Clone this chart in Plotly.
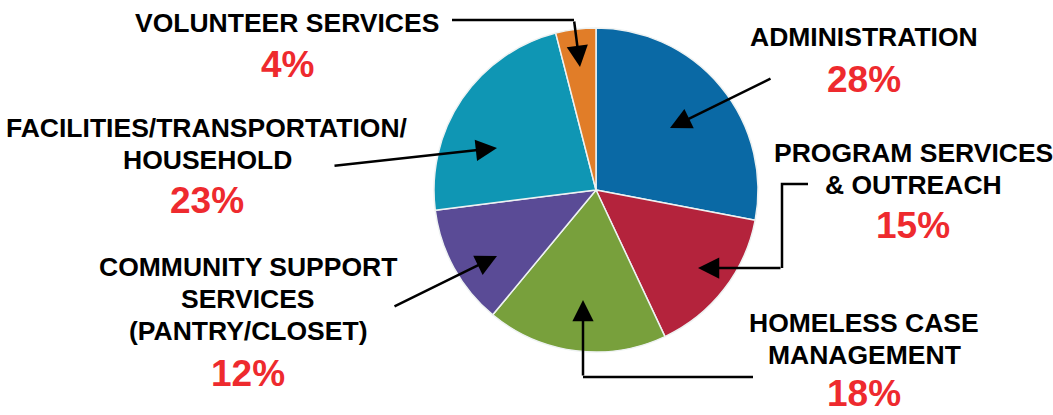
import plotly.graph_objects as go

# ---- data ----
categories = ["ADMINISTRATION", "PROGRAM SERVICES & OUTREACH", "HOMELESS CASE MANAGEMENT",
              "COMMUNITY SUPPORT SERVICES (PANTRY/CLOSET)", "FACILITIES/TRANSPORTATION/HOUSEHOLD",
              "VOLUNTEER SERVICES"]
values = [28, 15, 18, 12, 23, 4]
label_lines = [
    ["ADMINISTRATION"],
    ["PROGRAM SERVICES", "& OUTREACH"],
    ["HOMELESS CASE", "MANAGEMENT"],
    ["COMMUNITY SUPPORT", "SERVICES", "(PANTRY/CLOSET)"],
    ["FACILITIES/TRANSPORTATION/", "HOUSEHOLD"],
    ["VOLUNTEER SERVICES"],
]

# ---- styling / layout ----
colors = ["#0a69a5", "#b4233c", "#78a03c", "#5a4b96", "#0f96b4", "#e17d28"]
W, H = 1053, 415
cx, cy, r = 596, 190, 162

# label block positions: (center x, baseline of first line, line step, baseline of percent)
label_pos = [
    (864, 46, 32, 92),
    (913, 162, 32, 238),
    (864, 332, 32, 406),
    (248, 276, 32, 386),
    (207, 137, 32, 213),
    (287, 32, 32, 77),
]
# arrows: (tail x, tail y, tip x, tip y) and extra polyline legs
arrows = [
    (772, 78, 670, 128),
    (782, 268, 698, 268),
    (583, 377, 583, 300),
    (393, 307, 497, 256),
    (333, 166, 497, 148),
    (574, 20, 580, 67),
]
legs = [
    None,
    "M808,184 L782,184 L782,268",
    "M753,377 L583,377",
    None,
    None,
    "M452,20 L574,20",
]

LABEL_SIZE = 26.5
PCT_SIZE = 37
FONT = "Liberation Sans, Arial, sans-serif"

fig = go.Figure()
fig.add_trace(go.Pie(
    labels=categories, values=values, sort=False, direction="clockwise", rotation=0,
    marker=dict(colors=colors, line=dict(color="#eef2f2", width=1.5)),
    textinfo="none", hoverinfo="label+percent", showlegend=False,
    domain=dict(x=[(cx - r) / W, (cx + r) / W], y=[1 - (cy + r) / H, 1 - (cy - r) / H]),
))

annotations = []
shapes = []
for lines, v, (lx, b0, step, pb) in zip(label_lines, values, label_pos):
    for i, t in enumerate(lines):
        annotations.append(dict(
            x=lx, y=b0 + i * step - 0.3465 * LABEL_SIZE, xref="x", yref="y",
            text=t, showarrow=False, xanchor="center", yanchor="middle", borderpad=0,
            font=dict(family=FONT, size=LABEL_SIZE, color="#000000", weight="bold")))
    annotations.append(dict(
        x=lx, y=pb - 0.3465 * PCT_SIZE, xref="x", yref="y",
        text=f"{v}%", showarrow=False, xanchor="center", yanchor="middle", borderpad=0,
        font=dict(family=FONT, size=PCT_SIZE, color="#ee2a2e", weight="bold")))

for (tx, ty, hx, hy), leg in zip(arrows, legs):
    annotations.append(dict(
        x=hx, y=hy, ax=tx, ay=ty, xref="x", yref="y", axref="x", ayref="y",
        text="", showarrow=True, arrowhead=2, arrowsize=1.7, arrowwidth=2.5,
        arrowcolor="#000000", standoff=0, startstandoff=0))
    if leg:
        shapes.append(dict(type="path", path=leg, xref="x", yref="y",
                           line=dict(color="#000000", width=2.5)))

fig.update_layout(
    width=W, height=H, margin=dict(l=0, r=0, t=0, b=0),
    paper_bgcolor="white", plot_bgcolor="rgba(0,0,0,0)",
    xaxis=dict(range=[0, W], visible=False, fixedrange=True),
    yaxis=dict(range=[H, 0], visible=False, fixedrange=True),
    annotations=annotations, shapes=shapes, showlegend=False,
)

fig.write_html(
    "out.html",
    config={"displayModeBar": False},
    post_script="document.body.style.margin='0';document.body.style.padding='0';"
                "document.body.style.overflow='hidden';",
)
